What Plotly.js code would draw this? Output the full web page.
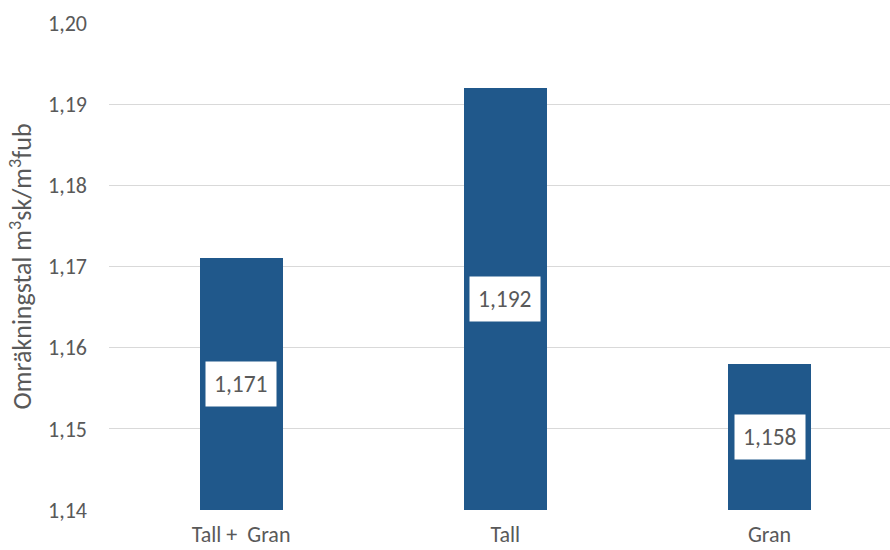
<!DOCTYPE html>
<html>
<head>
<meta charset="utf-8">
<script src="https://cdn.plot.ly/plotly-3.0.1.min.js"></script>
<style>
  html, body { margin: 0; padding: 0; background: #ffffff; }
  #chart { width: 890px; height: 550px; }
</style>
</head>
<body>
<div id="chart"></div>
<script>
// Conversion factors per tree species
const categories = ['Tall +\u00a0 Gran', 'Tall', 'Gran'];
const values = [1.171, 1.192, 1.158];
const yTicks = [1.14, 1.15, 1.16, 1.17, 1.18, 1.19, 1.20];

const yMin = 1.14;
const yMax = 1.20;
const fontFamily = 'Carlito, Calibri, "Open Sans", "Liberation Sans", sans-serif';
const textGrey = '#595959';

const xIdx = categories.map((_, i) => i);

const trace = {
  type: 'bar',
  x: xIdx,
  y: values.map(v => v - yMin),
  base: yMin,
  width: 0.314,
  marker: { color: '#20588B' },
  hoverinfo: 'skip'
};

// Value labels in white boxes at the middle of each bar
const annotations = values.map((v, i) => ({
  x: i,
  y: (yMin + v) / 2,
  xref: 'x',
  yref: 'y',
  text: v.toFixed(3).replace('.', ','),
  showarrow: false,
  bgcolor: '#ffffff',
  borderpad: 8,
  font: { family: fontFamily, size: 23.5, color: textGrey }
}));

const layout = {
  width: 890,
  height: 550,
  margin: { l: 109, r: 0, t: 23, b: 40 },
  paper_bgcolor: '#ffffff',
  plot_bgcolor: '#ffffff',
  showlegend: false,
  separators: ', ',
  bargap: 0,
  xaxis: {
    range: [-0.5, 2.456],
    tickvals: xIdx,
    ticktext: categories,
    showgrid: false,
    zeroline: false,
    showline: false,
    ticks: '',
    ticklabelstandoff: 9,
    tickfont: { family: fontFamily, size: 22, color: textGrey },
    fixedrange: true
  },
  yaxis: {
    range: [yMin, yMax],
    tickvals: yTicks,
    tickformat: '.2f',
    showgrid: true,
    gridcolor: '#d9d9d9',
    gridwidth: 1,
    zeroline: false,
    showline: false,
    ticks: '',
    ticklabelstandoff: 21,
    tickfont: { family: fontFamily, size: 22, color: textGrey },
    title: {
      text: 'Omräkningstal m<sup>3</sup>sk/m<sup>3</sup>fub',
      font: { family: fontFamily, size: 26, color: textGrey },
      standoff: 8
    },
    fixedrange: true
  },
  annotations: annotations
};

Plotly.newPlot('chart', [trace], layout, { displayModeBar: false, staticPlot: true });
</script>
</body>
</html>
